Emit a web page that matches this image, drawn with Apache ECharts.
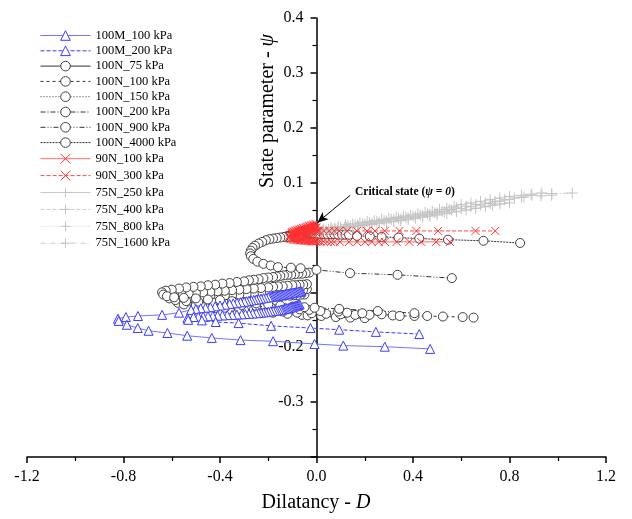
<!DOCTYPE html>
<html><head><meta charset="utf-8">
<script src="https://cdn.jsdelivr.net/npm/echarts@6/dist/echarts.min.js"></script>
<style>html,body{margin:0;padding:0;background:#fff}#c{width:632px;height:519px}</style>
</head><body><div id="c"></div>
<script>
// ---------------- DATA ----------------
const legendNames = ['100M_100 kPa','100M_200 kPa','100N_75 kPa','100N_100 kPa','100N_150 kPa','100N_200 kPa','100N_900 kPa','100N_4000 kPa','90N_100 kPa','90N_300 kPa','75N_250 kPa','75N_400 kPa','75N_800 kPa','75N_1600 kPa'];
const xRange = [-1.2, 1.2];
const yRange = [-0.4, 0.4];
const xStep = 0.4;
const yStep = 0.1;
const hiddenYLabels = [-0.4, -0.1];
const annotationText = 'Critical state (';
const arrowFrom = [0.14, 0.077];
const arrowTo = [0.003, 0.027];

const m100_100 = [[-0.062,-0.098],[-0.066,-0.0983],[-0.07,-0.0986],[-0.075,-0.099],[-0.08,-0.0994],[-0.085,-0.0998],[-0.09,-0.1002],[-0.095,-0.1006],[-0.10,-0.101],[-0.105,-0.1014],[-0.11,-0.1018],[-0.115,-0.1022],[-0.12,-0.1026],[-0.125,-0.103],[-0.13,-0.1034],[-0.135,-0.1038],[-0.14,-0.1042],[-0.145,-0.1046],[-0.15,-0.105],[-0.155,-0.1054],[-0.16,-0.1058],[-0.165,-0.1062],[-0.17,-0.1066],[-0.175,-0.107],[-0.18,-0.1074],[-0.185,-0.1078],[-0.19,-0.1082],[-0.195,-0.1086],[-0.20,-0.109],[-0.21,-0.1098],[-0.22,-0.1106],[-0.23,-0.1114],[-0.24,-0.1122],[-0.25,-0.113],[-0.26,-0.1138],[-0.27,-0.1146],[-0.28,-0.1154],[-0.29,-0.1162],[-0.30,-0.117],[-0.315,-0.118],[-0.33,-0.119],[-0.345,-0.120],[-0.36,-0.121],[-0.38,-0.1225],[-0.40,-0.124],[-0.42,-0.1255],[-0.44,-0.127],[-0.46,-0.128],[-0.48,-0.129],[-0.50,-0.1305],[-0.52,-0.132],[-0.57,-0.137],[-0.64,-0.141],[-0.74,-0.143],[-0.79,-0.145],[-0.823,-0.148],[-0.82,-0.152],[-0.786,-0.159],[-0.741,-0.165],[-0.696,-0.170],[-0.618,-0.174],[-0.536,-0.179],[-0.434,-0.183],[-0.315,-0.187],[-0.180,-0.189],[-0.008,-0.194],[0.111,-0.197],[0.283,-0.199],[0.471,-0.203]];
const m100_200 = [[-0.07,-0.122],[-0.074,-0.1226],[-0.078,-0.1232],[-0.082,-0.1238],[-0.086,-0.1244],[-0.09,-0.125],[-0.094,-0.1256],[-0.098,-0.1262],[-0.102,-0.1268],[-0.106,-0.1274],[-0.11,-0.128],[-0.115,-0.1286],[-0.12,-0.129],[-0.125,-0.1296],[-0.13,-0.130],[-0.135,-0.1305],[-0.14,-0.131],[-0.145,-0.1315],[-0.15,-0.132],[-0.157,-0.1325],[-0.165,-0.133],[-0.172,-0.1335],[-0.18,-0.134],[-0.19,-0.1345],[-0.20,-0.1352],[-0.21,-0.136],[-0.22,-0.1365],[-0.23,-0.137],[-0.24,-0.1375],[-0.25,-0.138],[-0.265,-0.1385],[-0.28,-0.139],[-0.295,-0.1395],[-0.31,-0.140],[-0.33,-0.1405],[-0.35,-0.141],[-0.37,-0.1415],[-0.39,-0.142],[-0.41,-0.1425],[-0.43,-0.143],[-0.45,-0.1435],[-0.47,-0.144],[-0.49,-0.1445],[-0.51,-0.145],[-0.535,-0.147],[-0.532,-0.150],[-0.475,-0.151],[-0.418,-0.154],[-0.323,-0.156],[-0.188,-0.161],[-0.025,-0.165],[0.094,-0.168],[0.246,-0.172],[0.426,-0.176]];
const n75 = [[-0.05,-0.104],[-0.065,-0.104],[-0.08,-0.105],[-0.095,-0.105],[-0.11,-0.106],[-0.13,-0.106],[-0.15,-0.107],[-0.17,-0.108],[-0.19,-0.108],[-0.21,-0.109],[-0.24,-0.110],[-0.27,-0.111],[-0.30,-0.112],[-0.33,-0.113],[-0.36,-0.114],[-0.39,-0.115],[-0.42,-0.116],[-0.45,-0.117],[-0.48,-0.118],[-0.50,-0.120],[-0.495,-0.124],[-0.47,-0.127],[-0.42,-0.129],[-0.36,-0.131],[-0.30,-0.133],[-0.24,-0.135],[-0.18,-0.137],[-0.12,-0.139],[-0.06,-0.141],[-0.037,-0.142],[0.02,-0.143],[0.08,-0.145],[0.14,-0.146],[0.20,-0.147]];
const n100 = [[-0.04,-0.094],[-0.055,-0.095],[-0.07,-0.095],[-0.085,-0.096],[-0.10,-0.096],[-0.12,-0.097],[-0.14,-0.098],[-0.16,-0.098],[-0.18,-0.099],[-0.20,-0.100],[-0.23,-0.101],[-0.26,-0.102],[-0.29,-0.103],[-0.32,-0.104],[-0.35,-0.105],[-0.38,-0.106],[-0.41,-0.107],[-0.44,-0.108],[-0.47,-0.109],[-0.50,-0.110],[-0.53,-0.111],[-0.56,-0.113],[-0.58,-0.115],[-0.575,-0.119],[-0.55,-0.122],[-0.50,-0.124],[-0.44,-0.126],[-0.38,-0.128],[-0.32,-0.130],[-0.26,-0.132],[-0.20,-0.134],[-0.14,-0.135],[-0.08,-0.137],[-0.02,-0.138],[0.04,-0.139],[0.10,-0.140],[0.16,-0.141],[0.22,-0.141],[0.27,-0.140],[0.316,-0.142],[0.345,-0.143],[0.406,-0.143],[0.459,-0.143],[0.524,-0.144],[0.606,-0.145],[0.651,-0.146]];
const n150 = [[-0.04,-0.085],[-0.055,-0.086],[-0.07,-0.086],[-0.085,-0.087],[-0.10,-0.087],[-0.12,-0.088],[-0.14,-0.089],[-0.16,-0.089],[-0.18,-0.090],[-0.20,-0.091],[-0.23,-0.092],[-0.26,-0.093],[-0.29,-0.094],[-0.32,-0.095],[-0.35,-0.096],[-0.38,-0.097],[-0.41,-0.098],[-0.44,-0.099],[-0.47,-0.100],[-0.50,-0.101],[-0.53,-0.102],[-0.56,-0.103],[-0.59,-0.105],[-0.615,-0.107],[-0.61,-0.111],[-0.585,-0.114],[-0.54,-0.116],[-0.49,-0.117],[-0.43,-0.119],[-0.37,-0.121],[-0.31,-0.123],[-0.25,-0.125],[-0.19,-0.127],[-0.13,-0.129],[-0.07,-0.131],[-0.03,-0.132],[0.016,-0.134],[0.09,-0.135],[0.127,-0.137],[0.19,-0.138]];
const n200 = [[-0.03,-0.064],[-0.045,-0.065],[-0.06,-0.066],[-0.075,-0.066],[-0.09,-0.067],[-0.105,-0.068],[-0.12,-0.068],[-0.135,-0.069],[-0.15,-0.070],[-0.165,-0.071],[-0.18,-0.072],[-0.20,-0.073],[-0.22,-0.074],[-0.24,-0.076],[-0.26,-0.077],[-0.28,-0.078],[-0.30,-0.080],[-0.33,-0.081],[-0.36,-0.083],[-0.39,-0.084],[-0.42,-0.086],[-0.45,-0.087],[-0.48,-0.089],[-0.51,-0.090],[-0.54,-0.091],[-0.57,-0.093],[-0.60,-0.095],[-0.625,-0.097],[-0.64,-0.100],[-0.635,-0.104],[-0.62,-0.107],[-0.59,-0.109],[-0.55,-0.110],[-0.50,-0.111],[-0.45,-0.113],[-0.40,-0.114],[-0.35,-0.116],[-0.30,-0.118],[-0.25,-0.120],[-0.20,-0.122],[-0.15,-0.124],[-0.10,-0.126],[-0.05,-0.127],[-0.008,-0.128],[0.094,-0.130],[0.254,-0.134],[0.406,-0.138]];
const n900 = [[-0.03,0.006],[-0.045,0.005],[-0.06,0.005],[-0.075,0.004],[-0.09,0.003],[-0.105,0.002],[-0.12,0.001],[-0.135,0.001],[-0.15,0.000],[-0.165,-0.001],[-0.18,-0.002],[-0.195,-0.003],[-0.21,-0.005],[-0.225,-0.008],[-0.24,-0.011],[-0.255,-0.015],[-0.265,-0.019],[-0.272,-0.024],[-0.275,-0.029],[-0.272,-0.034],[-0.262,-0.039],[-0.245,-0.044],[-0.22,-0.048],[-0.19,-0.051],[-0.16,-0.054],[-0.106,-0.055],[-0.066,-0.056],[0.0,-0.059],[0.139,-0.065],[0.336,-0.068],[0.561,-0.074]];
const n4000 = [[-0.045,0.009],[-0.04,0.009],[-0.035,0.008],[-0.03,0.008],[-0.025,0.008],[-0.02,0.008],[-0.015,0.008],[-0.008,0.007],[0.0,0.007],[0.008,0.007],[0.016,0.006],[0.03,0.006],[0.045,0.006],[0.06,0.006],[0.074,0.006],[0.09,0.005],[0.106,0.005],[0.12,0.005],[0.135,0.005],[0.168,0.003],[0.221,0.002],[0.27,0.001],[0.34,0.000],[0.426,-0.002],[0.545,-0.004],[0.692,-0.006],[0.844,-0.010]];
const r100 = [[0.0,0.018],[-0.005,0.0175],[-0.01,0.017],[-0.015,0.0165],[-0.02,0.016],[-0.025,0.0155],[-0.03,0.015],[-0.035,0.0145],[-0.04,0.014],[-0.045,0.0135],[-0.05,0.013],[-0.055,0.0125],[-0.06,0.012],[-0.065,0.0115],[-0.07,0.011],[-0.075,0.0105],[-0.08,0.010],[-0.085,0.009],[-0.09,0.008],[-0.095,0.007],[-0.10,0.006],[-0.105,0.005],[-0.11,0.004],[-0.115,0.001],[-0.11,-0.002],[-0.105,-0.0025],[-0.10,-0.003],[-0.095,-0.0035],[-0.09,-0.004],[-0.085,-0.004],[-0.08,-0.004],[-0.075,-0.0045],[-0.07,-0.005],[-0.065,-0.005],[-0.06,-0.005],[-0.055,-0.0055],[-0.05,-0.006],[-0.045,-0.006],[-0.04,-0.006],[-0.035,-0.006],[-0.03,-0.006],[-0.025,-0.0065],[-0.02,-0.007],[-0.015,-0.007],[-0.01,-0.007],[-0.005,-0.007],[0.0,-0.007],[0.008,-0.007],[0.016,-0.007],[0.03,-0.0075],[0.045,-0.008],[0.06,-0.008],[0.074,-0.008],[0.098,-0.008],[0.135,-0.008],[0.168,-0.008],[0.201,-0.008],[0.229,-0.008],[0.258,-0.008],[0.283,-0.008],[0.332,-0.008],[0.385,-0.008],[0.434,-0.008],[0.496,-0.008],[0.553,-0.008]];
const r300 = [[0.0,0.024],[-0.005,0.0235],[-0.01,0.023],[-0.015,0.0225],[-0.02,0.022],[-0.025,0.0213],[-0.03,0.0205],[-0.035,0.0198],[-0.04,0.019],[-0.045,0.0183],[-0.05,0.0175],[-0.055,0.0168],[-0.06,0.016],[-0.065,0.0153],[-0.07,0.0145],[-0.075,0.0138],[-0.08,0.013],[-0.085,0.0122],[-0.09,0.0115],[-0.095,0.0105],[-0.10,0.0095],[-0.103,0.008],[-0.10,0.007],[-0.095,0.0065],[-0.09,0.006],[-0.082,0.006],[-0.075,0.006],[-0.067,0.0065],[-0.06,0.007],[-0.052,0.0075],[-0.045,0.008],[-0.037,0.0085],[-0.03,0.009],[-0.022,0.0095],[-0.015,0.010],[-0.007,0.0105],[0.0,0.011],[0.006,0.0115],[0.012,0.012],[0.03,0.012],[0.053,0.012],[0.074,0.012],[0.094,0.012],[0.127,0.012],[0.168,0.012],[0.209,0.012],[0.242,0.012],[0.283,0.012],[0.344,0.012],[0.414,0.012],[0.504,0.012],[0.659,0.012],[0.741,0.012]];
const g250 = [[0.0,0.008],[0.02,0.010],[0.04,0.011],[0.06,0.013],[0.08,0.015],[0.10,0.016],[0.125,0.018],[0.15,0.019],[0.175,0.021],[0.20,0.022],[0.23,0.024],[0.26,0.026],[0.29,0.027],[0.32,0.029],[0.35,0.031],[0.38,0.033],[0.41,0.035],[0.44,0.037],[0.47,0.039],[0.50,0.041],[0.54,0.044],[0.58,0.047],[0.62,0.050],[0.66,0.053],[0.70,0.056],[0.73,0.059],[0.76,0.061],[0.80,0.063]];
const g400 = [[0.0,0.009],[0.02,0.011],[0.04,0.013],[0.065,0.015],[0.09,0.017],[0.115,0.019],[0.14,0.020],[0.17,0.022],[0.20,0.024],[0.23,0.026],[0.26,0.028],[0.29,0.030],[0.32,0.032],[0.35,0.034],[0.38,0.036],[0.41,0.038],[0.44,0.040],[0.47,0.042],[0.50,0.045],[0.53,0.047],[0.56,0.050],[0.60,0.053],[0.64,0.056],[0.68,0.059],[0.72,0.062],[0.76,0.066],[0.80,0.069],[0.85,0.073]];
const g800 = [[0.0,0.010],[0.025,0.012],[0.05,0.015],[0.075,0.017],[0.10,0.019],[0.13,0.021],[0.16,0.023],[0.19,0.025],[0.22,0.027],[0.25,0.029],[0.28,0.031],[0.31,0.033],[0.34,0.035],[0.37,0.037],[0.40,0.039],[0.43,0.041],[0.46,0.043],[0.49,0.045],[0.52,0.048],[0.55,0.051],[0.58,0.054],[0.62,0.057],[0.66,0.060],[0.70,0.063],[0.74,0.066],[0.78,0.069],[0.82,0.072],[0.86,0.074],[0.893,0.077],[0.93,0.076],[0.975,0.077]];
const g1600 = [[0.0,0.012],[0.03,0.015],[0.06,0.018],[0.09,0.020],[0.12,0.023],[0.15,0.025],[0.18,0.027],[0.21,0.029],[0.24,0.031],[0.27,0.033],[0.30,0.035],[0.33,0.037],[0.36,0.039],[0.39,0.041],[0.42,0.043],[0.45,0.046],[0.48,0.048],[0.51,0.051],[0.54,0.054],[0.57,0.057],[0.60,0.060],[0.64,0.063],[0.68,0.066],[0.72,0.069],[0.76,0.072],[0.80,0.075],[0.85,0.077],[0.89,0.079],[0.934,0.081],[0.975,0.080],[1.06,0.081]];

// ---------------- STYLE ----------------
const FONT = "'Liberation Serif','Times New Roman',serif";
const X_SYM = 'path://M0 0L10 10M10 0L0 10';
const P_SYM = 'path://M5 0L5 10M0 5L10 5';
const DASH = [4,2], DOT = [1,2], DASHDOT = [5,2,1,2], DASHDOTDOT = [5,2,1,2,1,2], SHORT = [2,1];

function circ(name, data, dash){
  return {name, data, line:'#333', dash, symbol:'circle', size:9, fill:'#fff', stroke:'#404040'};
}
function tri(name, data, dash, lineColor){
  return {name, data, line:lineColor, dash, symbol:'triangle', size:9, fill:'#fff', stroke:'#3c3cff'};
}
function cross(name, data, dash, lineColor){
  return {name, data, line:lineColor, dash, symbol:X_SYM, size:8, fill:'none', stroke:'#ff3030'};
}
function plus(name, data, dash){
  return {name, data, line:'#cacaca', dash, symbol:P_SYM, size:11, fill:'none', stroke:'#c4c4c4'};
}

const defs = [
  circ(legendNames[2], n75, 'solid'),
  circ(legendNames[3], n100, [3,3]),
  circ(legendNames[4], n150, DOT),
  circ(legendNames[5], n200, DASHDOT),
  circ(legendNames[6], n900, DASHDOTDOT),
  circ(legendNames[7], n4000, SHORT),
  tri(legendNames[0], m100_100, 'solid', '#7373ff'),
  tri(legendNames[1], m100_200, DASH, '#3a3aff'),
  plus(legendNames[10], g250, 'solid'),
  plus(legendNames[11], g400, DASH),
  plus(legendNames[12], g800, DOT),
  plus(legendNames[13], g1600, DASHDOT),
  cross(legendNames[8], r100, 'solid', '#ff6a6a'),
  cross(legendNames[9], r300, DASH, '#ff4a4a')
];

const series = defs.map(d => ({
  type:'line', name:d.name, data:d.data, showAllSymbol:true,
  symbol:d.symbol, symbolSize:d.size,
  lineStyle:{color:d.line, width:1, type:d.dash},
  itemStyle:{color:d.fill, borderColor:d.stroke, borderWidth:1},
  emphasis:{disabled:true}
}));
series.push({
  type:'line', data:[], silent:true,
  markLine:{silent:true, animation:false, symbol:['none','arrow'], symbolSize:[7,11],
    lineStyle:{color:'#000', width:1, type:'solid'}, label:{show:false},
    data:[[{coord:arrowFrom},{coord:arrowTo}]]}
});

function fmt(v){ return Math.abs(v) < 1e-9 ? '0.0' : v.toFixed(1); }

const GL = 27, GR = 26;
const zeroOffset = (632 - GL - GR) * (0 - xRange[0]) / (xRange[1] - xRange[0]);

const chart = echarts.init(document.getElementById('c'), null, {renderer:'canvas'});
chart.setOption({
  animation:false,
  backgroundColor:'#fff',
  grid:{left:GL, right:GR, top:18, bottom:62, outerBoundsMode:'none'},
  legend:{orient:'vertical', left:40, top:29, padding:0, itemWidth:50, itemHeight:12, itemGap:2.3, selectedMode:false,
    lineStyle:{width:1}, itemStyle:{borderWidth:1},
    data:legendNames, textStyle:{fontFamily:FONT, fontSize:12.5, color:'#000'}},
  xAxis:{type:'value', min:xRange[0], max:xRange[1], interval:xStep,
    axisLine:{onZero:false, lineStyle:{color:'#000', width:1.5}},
    axisTick:{length:6, lineStyle:{color:'#000', width:1.5}},
    minorTick:{show:true, splitNumber:2, length:4, lineStyle:{color:'#000', width:1.2}},
    splitLine:{show:false},
    axisLabel:{formatter:fmt, fontFamily:FONT, fontSize:16, color:'#000', margin:12}},
  yAxis:{type:'value', min:yRange[0], max:yRange[1], interval:yStep, position:'left', offset:-zeroOffset,
    axisLine:{onZero:false, lineStyle:{color:'#000', width:1.5}},
    axisTick:{length:6, lineStyle:{color:'#000', width:1.5}},
    minorTick:{show:true, splitNumber:2, length:4, lineStyle:{color:'#000', width:1.2}},
    splitLine:{show:false},
    axisLabel:{formatter:v => hiddenYLabels.some(h => Math.abs(v-h)<1e-9) ? '' : fmt(v),
      fontFamily:FONT, fontSize:16, color:'#000', margin:13}},
  graphic:[
    {type:'text', x:268, y:111, rotation:Math.PI/2, silent:true,
     style:{text:'{a|State parameter - }{b|ψ}', align:'center', verticalAlign:'middle',
       rich:{a:{fontFamily:FONT, fontSize:20, fill:'#000'}, b:{fontFamily:FONT, fontSize:20, fontStyle:'italic', fill:'#000'}}}},
    {type:'text', x:316, y:503, silent:true,
     style:{text:'{a|Dilatancy - }{b|D}', align:'center', verticalAlign:'middle',
       rich:{a:{fontFamily:FONT, fontSize:20, fill:'#000'}, b:{fontFamily:FONT, fontSize:20, fontStyle:'italic', fill:'#000'}}}},
    {type:'text', x:355, y:192, silent:true,
     style:{text:'{a|'+annotationText+'}{b|ψ = 0}{a|)}', align:'left', verticalAlign:'middle',
       rich:{a:{fontFamily:FONT, fontSize:11.5, fontWeight:'bold', fill:'#000'}, b:{fontFamily:FONT, fontSize:11.5, fontWeight:'bold', fontStyle:'italic', fill:'#000'}}}}
  ],
  series
});
</script></body></html>
